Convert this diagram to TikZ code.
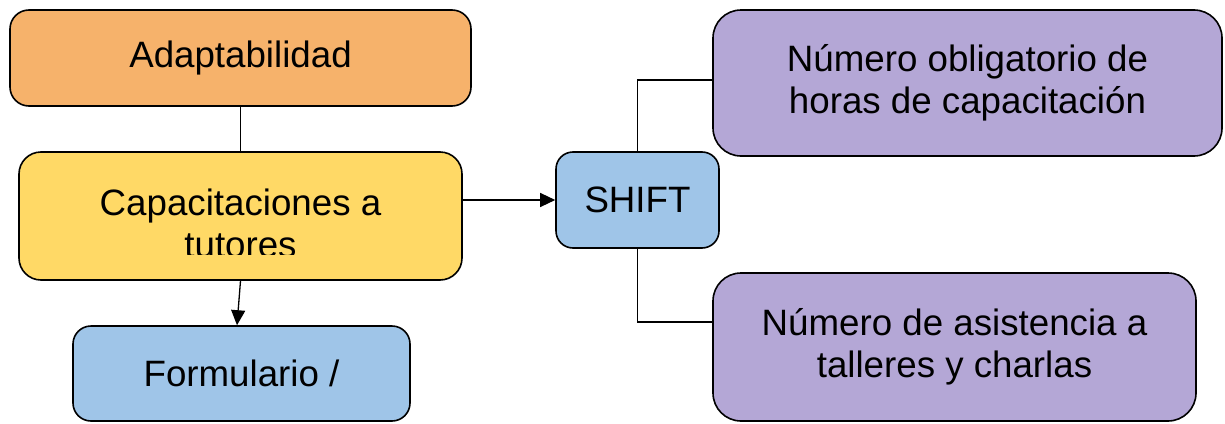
\documentclass[tikz,border=0pt]{standalone}
\usepackage{fontspec}
\setmainfont{Liberation Sans}
\usetikzlibrary{calc}
\usetikzlibrary{arrows.meta}

\definecolor{adaptorange}{HTML}{F6B26B}
\definecolor{capyellow}{HTML}{FFD966}
\definecolor{toolblue}{HTML}{9FC5E8}
\definecolor{countpurple}{HTML}{B4A7D6}

\begin{document}
\begin{tikzpicture}[x=1pt, y=-1pt,
    box/.style={draw, line width=1.6pt, inner sep=0pt, align=center,
        font=\fontsize{36.7}{42.2}\selectfont},
    link/.style={line width=1.3pt},
    flow/.style={line width=1.3pt, -{Triangle[length=15pt,width=14pt]}}]

    % canvas
    \useasboundingbox (0,0) rectangle (1225,423);

    % left column
    \node[box, fill=adaptorange, rounded corners=19pt,
        minimum width=461pt, minimum height=96pt] (adapt) at (240.5,58) {Adaptabilidad};
    \node[box, fill=capyellow, rounded corners=22pt,
        minimum width=443pt, minimum height=128pt] (cap) at (240.5,216) {};
    \node[box, fill=toolblue, rounded corners=18pt,
        minimum width=337pt, minimum height=95pt] (form) at (241.5,373.5) {Formulario /};

    % text of the yellow box, cut at its lower edge
    \begin{scope}
        \clip (19,152) rectangle (462,254);
        \node[align=center, inner sep=0pt, font=\fontsize{36.7}{42.2}\selectfont]
            (captxt) at (240.5,223) {Capacitaciones a\\tutores};
    \end{scope}

    % middle and right column
    \node[box, fill=toolblue, rounded corners=17pt,
        minimum width=163pt, minimum height=96pt] (shift) at (637.5,200) {SHIFT};
    \node[box, fill=countpurple, rounded corners=28pt,
        minimum width=509pt, minimum height=146pt] (num1) at (967.5,83)
        {Número obligatorio de\\horas de capacitación};
    \node[box, fill=countpurple, rounded corners=28pt,
        minimum width=483pt, minimum height=148pt] (num2) at (954.5,347)
        {Número de asistencia a\\talleres y charlas};

    % connectors
    \draw[link] (adapt) -- (cap);
    \draw[flow] (cap.south) -- ([xshift=-4.5pt]form.north);
    \draw[flow] (cap.east |- shift.west) -- (shift.west);
    \draw[link] (shift.north) |- ([yshift=3pt]num1.west);
    \draw[link] (shift.south) |- ([yshift=25pt]num2.west);

\end{tikzpicture}
\end{document}
